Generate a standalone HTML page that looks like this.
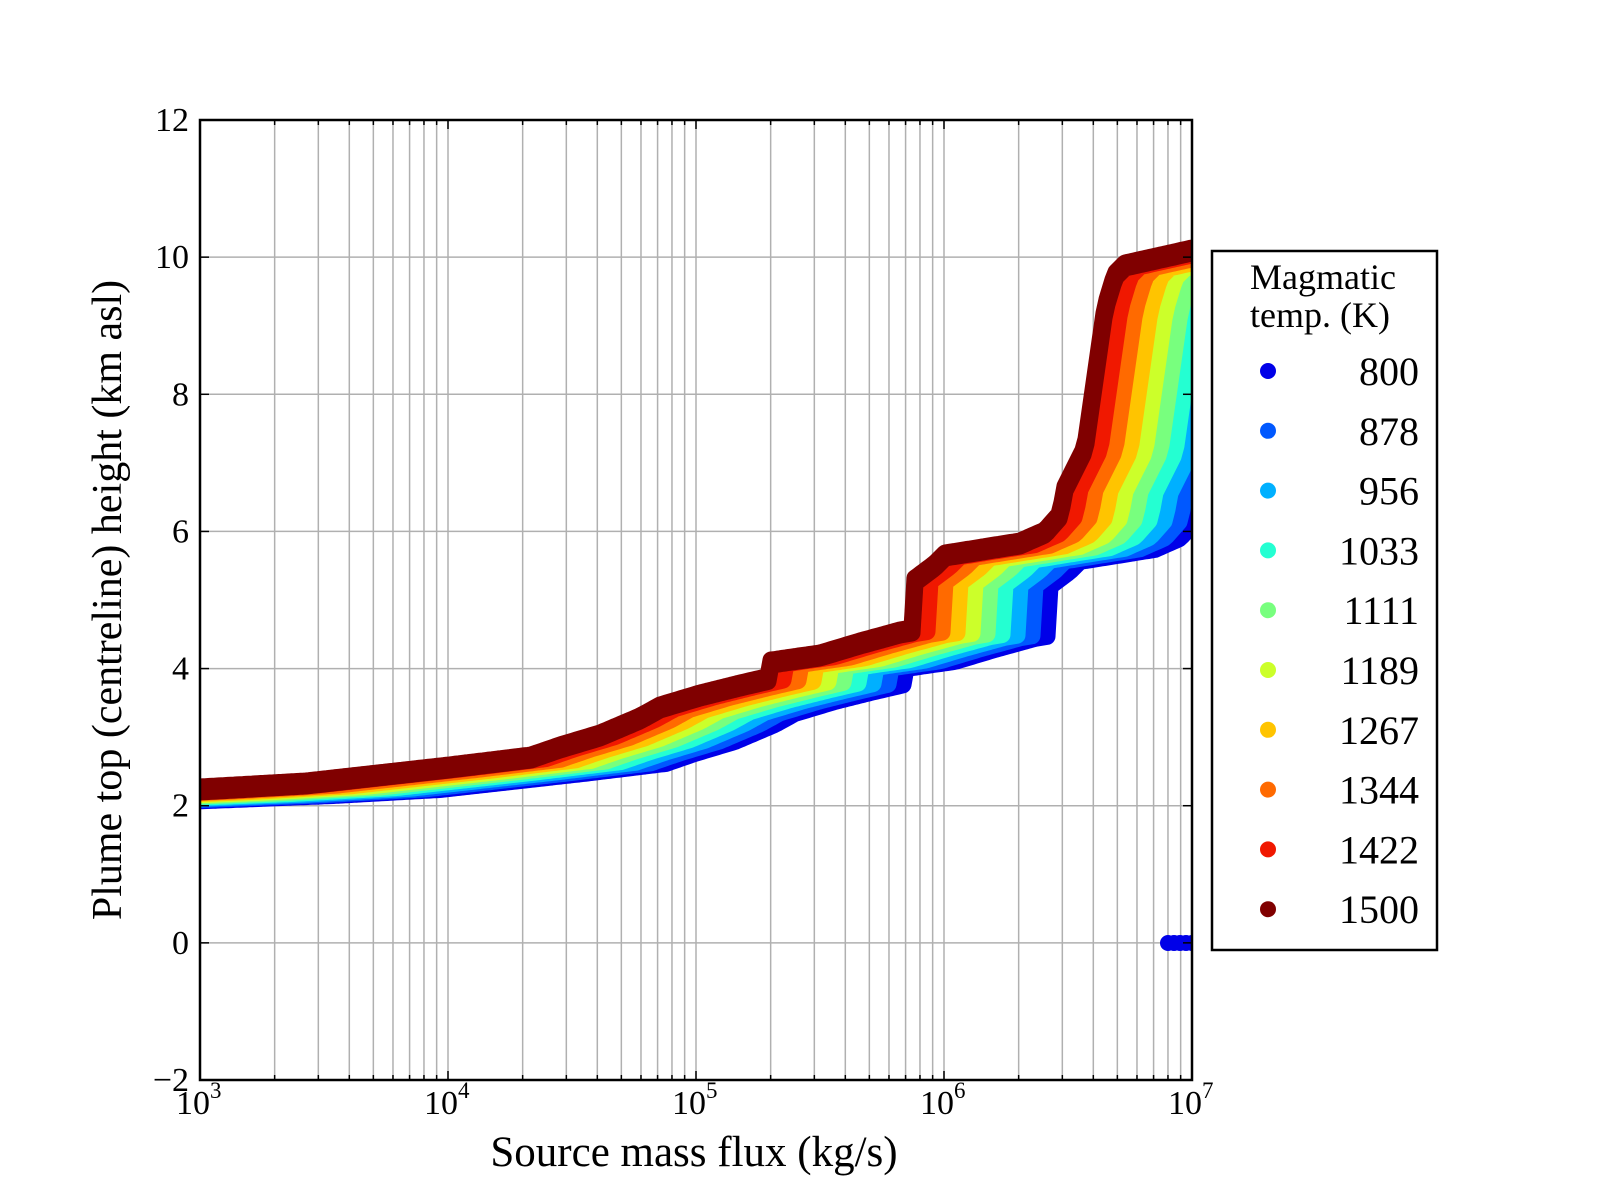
<!DOCTYPE html>
<html><head><meta charset="utf-8"><style>
html,body{margin:0;padding:0;background:#fff;}
svg{display:block;}
text{font-family:"Liberation Serif",serif;fill:#000;}
</style></head><body>
<svg id="s" width="1600" height="1200" xmlns="http://www.w3.org/2000/svg">
<defs><clipPath id="c"><rect x="200" y="120" width="992" height="960"/></clipPath></defs>
<g id="grid"></g>
<g id="data" clip-path="url(#c)"></g>
<rect x="200" y="120" width="992" height="960" fill="none" stroke="#000" stroke-width="2.5"/>
<g id="ticks"></g>
<g id="labels" font-size="34"></g>
<text x="694" y="1166" font-size="43" text-anchor="middle">Source mass flux (kg/s)</text>
<text transform="translate(121,600) rotate(-90)" font-size="42" text-anchor="middle">Plume top (centreline) height (km asl)</text>
<rect x="1212" y="251" width="225" height="699" fill="#fff" stroke="#000" stroke-width="2.5"/>
<text x="1250" y="289" font-size="36">Magmatic</text>
<text x="1250" y="327" font-size="36">temp. (K)</text>
<g id="leg" font-size="40"></g>
</svg>
<script>
var NS="http://www.w3.org/2000/svg";
function el(p,t,a,txt){var e=document.createElementNS(NS,t);for(var k in a)e.setAttribute(k,a[k]);if(txt!=null)e.textContent=txt;document.getElementById(p).appendChild(e);return e;}
function X(v){return 200+248*(Math.log10(v)-3);}
function Y(v){return 1080-(v+2)*68.571;}
for(var d=3;d<7;d++)for(var m=1;m<10;m++){var x=X(m*Math.pow(10,d));
 if(x>200&&x<1192)el("grid","line",{x1:x,y1:120,x2:x,y2:1080,stroke:"#b0b0b0","stroke-width":1.5});
 var L=m==1?9:5;
 el("ticks","line",{x1:x,y1:1080,x2:x,y2:1080-L,stroke:"#000","stroke-width":1.5});
 el("ticks","line",{x1:x,y1:120,x2:x,y2:120+L,stroke:"#000","stroke-width":1.5});}
for(var v=-2;v<=12;v+=2){var y=Y(v);
 if(v>-2&&v<12)el("grid","line",{x1:200,y1:y,x2:1192,y2:y,stroke:"#b0b0b0","stroke-width":1.5});
 el("ticks","line",{x1:200,y1:y,x2:209,y2:y,stroke:"#000","stroke-width":1.5});
 el("ticks","line",{x1:1192,y1:y,x2:1183,y2:y,stroke:"#000","stroke-width":1.5});
 el("labels","text",{x:189,y:y+11,"text-anchor":"end"},(v<0?"\u2212":"")+Math.abs(v));}
for(var d=3;d<=7;d++){var x=X(Math.pow(10,d));
 el("labels","text",{x:x-24,y:1114},"10");
 el("labels","text",{x:x+10,y:1098,"font-size":23},""+d);}
var H=[[-200,800],[0,795],[200,787],[306,781],[449,765],[531,755],[560,745],[600,733],[640,716],[660,705],[700,693],[740,683],[770,676],[772,660],[785,658],[820,653],[860,641],[900,630],[912,628],[915,578],[935,563],[945,553],[1020,541],[1045,530],[1060,513],[1065,486],[1075,466],[1085,446],[1095,376],[1105,306],[1115,273],[1125,263],[1192,248],[1400,235]];
function h(x){for(var i=1;i<H.length;i++){if(x<=H[i][0]){var a=H[i-1],b=H[i];
 if(b[0]-a[0]<4)return b[1];return a[1]+(b[1]-a[1])*(x-a[0])/(b[0]-a[0]);}}return H[H.length-1][1];}
var cols=["#0000e8","#0058ff","#00b0ff","#24ffd2","#78ff7e","#ccff2a","#ffc400","#ff6a00","#f01800","#800000"];
var temps=["800","878","956","1033","1111","1189","1267","1344","1422","1500"];
for(var i=0;i<10;i++){
 var s=(9-i)*15, pts=[], pts2=[];
 for(var x=180;x<=1215;x+=3){var y=h(x-s)+(i<9?3+(9-i)*0.6:0);pts.push(x+","+y.toFixed(1));pts2.push(x+","+(y+5).toFixed(1));}
 if(i==9)el("data","polyline",{points:pts2.join(" "),fill:"none",stroke:cols[i],"stroke-width":17,"stroke-linejoin":"round","stroke-linecap":"round"});
 el("data","polyline",{points:pts.join(" "),fill:"none",stroke:cols[i],"stroke-width":17,"stroke-linejoin":"round","stroke-linecap":"round"});
 if(i==0){for(var x=1168;x<1200;x+=6)el("data","circle",{cx:x,cy:943,r:8,fill:cols[0]});}
 var ly=371+59.8*i;
 el("leg","circle",{cx:1268,cy:ly,r:8,fill:cols[i]});
 el("leg","text",{x:1419,y:ly+14,"text-anchor":"end"},temps[i]);
}
</script>
</body></html>
